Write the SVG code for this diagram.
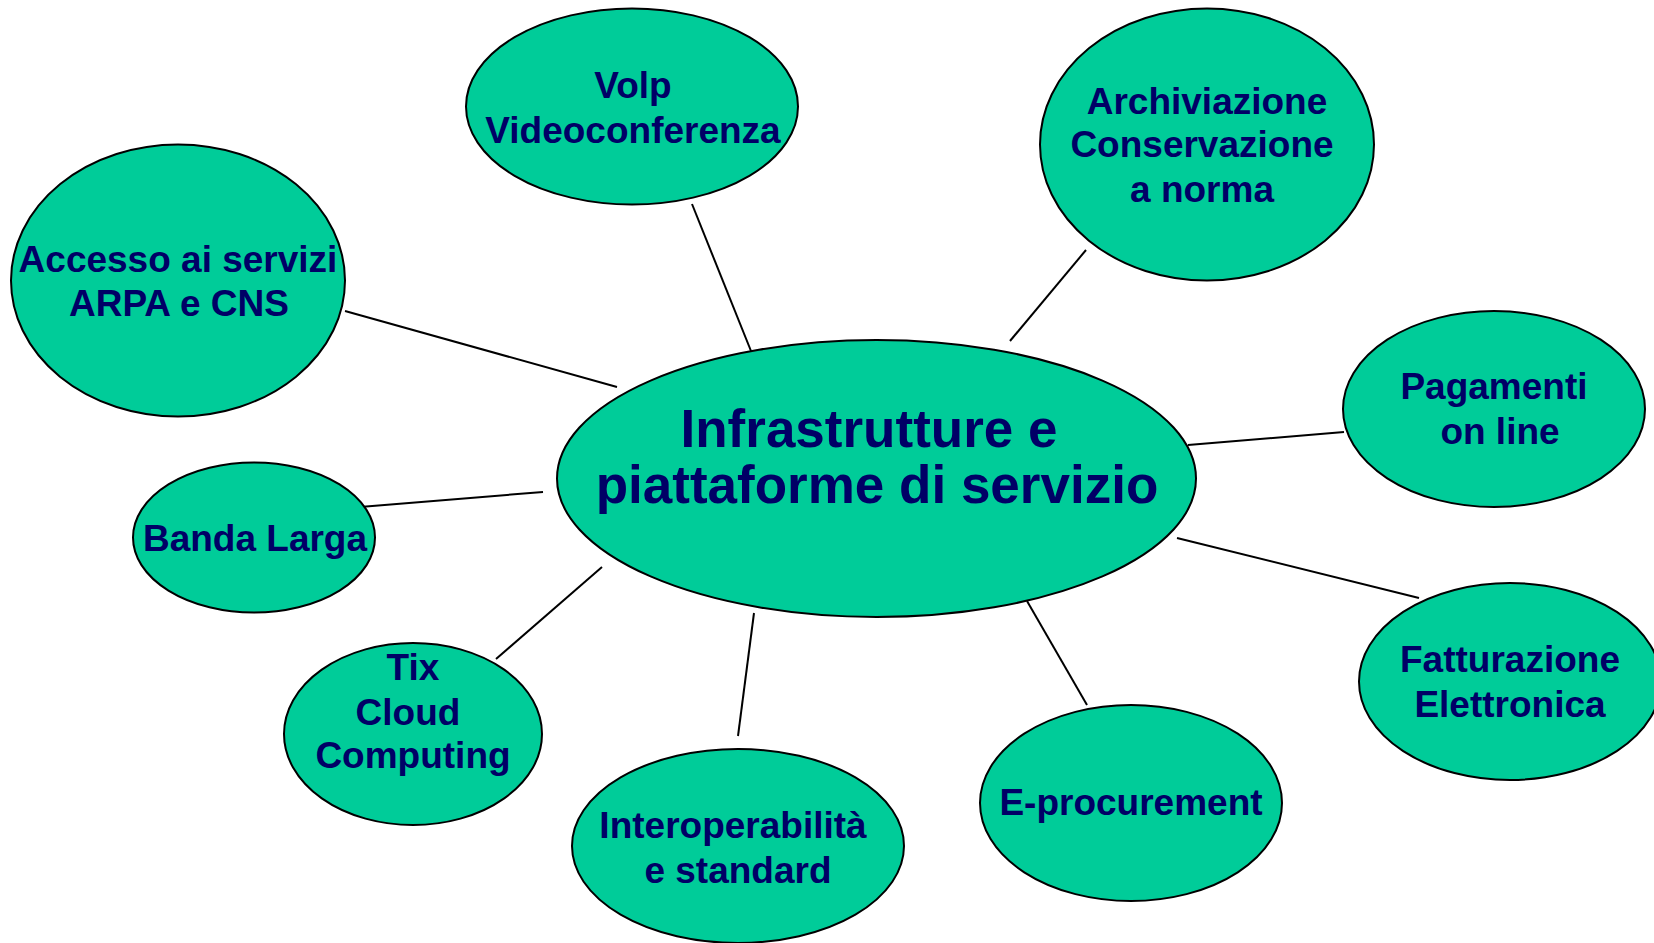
<svg xmlns="http://www.w3.org/2000/svg" width="1654" height="943" viewBox="0 0 1654 943">
<style>
.n{fill:#00CC99;stroke:#000;stroke-width:2}
.t{font-family:"Liberation Sans",Arial,sans-serif;font-weight:bold;font-size:37px;fill:#000066;text-anchor:middle}
.c{font-size:53px}
.e{stroke:#000;stroke-width:2;fill:none}
</style>
<rect width="1654" height="943" fill="#fff"/>
<g id="connectors">
<line class="e" x1="692" y1="204" x2="753" y2="356"/>
<line class="e" x1="345" y1="311" x2="617" y2="387"/>
<line class="e" x1="1086" y1="250" x2="1010" y2="341"/>
<line class="e" x1="1188" y1="445" x2="1344" y2="432"/>
<line class="e" x1="360" y1="507" x2="543" y2="492"/>
<line class="e" x1="496" y1="659" x2="602" y2="567"/>
<line class="e" x1="754" y1="613" x2="738" y2="736"/>
<line class="e" x1="1027" y1="601" x2="1087" y2="705"/>
<line class="e" x1="1177" y1="538" x2="1419" y2="598"/>
</g>
<g id="center">
<ellipse class="n" cx="876.5" cy="478.5" rx="319.5" ry="138.5"/>
<text class="t c" x="869" y="447">Infrastrutture e</text>
<text class="t c" x="877" y="503">piattaforme di servizio</text>
</g>
<g id="voip">
<ellipse class="n" cx="632" cy="106.5" rx="166" ry="98"/>
<text class="t" x="633" y="98">Volp</text>
<text class="t" x="633" y="143">Videoconferenza</text>
</g>
<g id="archiviazione">
<ellipse class="n" cx="1207" cy="144.5" rx="167" ry="136"/>
<text class="t" x="1207" y="114">Archiviazione</text>
<text class="t" x="1202" y="157">Conservazione</text>
<text class="t" x="1202" y="202">a norma</text>
</g>
<g id="accesso">
<ellipse class="n" cx="178" cy="280.5" rx="167" ry="136"/>
<text class="t" x="178" y="272">Accesso ai servizi</text>
<text class="t" x="179" y="316">ARPA e CNS</text>
</g>
<g id="pagamenti">
<ellipse class="n" cx="1494" cy="409" rx="151" ry="98"/>
<text class="t" x="1494" y="399">Pagamenti</text>
<text class="t" x="1500" y="444">on line</text>
</g>
<g id="banda">
<ellipse class="n" cx="254" cy="537.5" rx="121" ry="75"/>
<text class="t" x="255" y="551">Banda Larga</text>
</g>
<g id="tix">
<ellipse class="n" cx="413" cy="734" rx="129" ry="91"/>
<text class="t" x="413" y="680">Tix</text>
<text class="t" x="408" y="725">Cloud</text>
<text class="t" x="413" y="768">Computing</text>
</g>
<g id="interop">
<ellipse class="n" cx="738" cy="846" rx="166" ry="97"/>
<text class="t" x="733" y="838">Interoperabilità</text>
<text class="t" x="738" y="883">e standard</text>
</g>
<g id="eprocurement">
<ellipse class="n" cx="1131" cy="803" rx="151" ry="98"/>
<text class="t" x="1131" y="815">E-procurement</text>
</g>
<g id="fatturazione">
<ellipse class="n" cx="1510" cy="681.5" rx="151" ry="98.5"/>
<text class="t" x="1510" y="672">Fatturazione</text>
<text class="t" x="1510" y="717">Elettronica</text>
</g>
</svg>
